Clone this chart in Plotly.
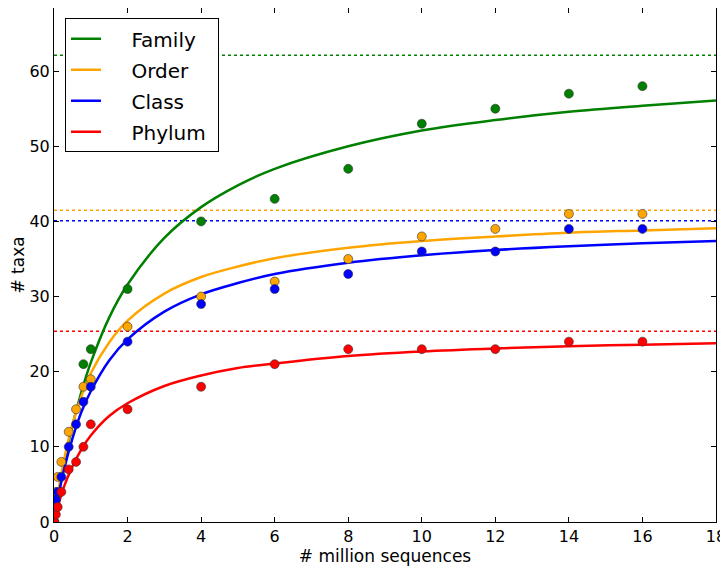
import plotly.graph_objects as go

# ---- data ----
names = ["Family", "Order", "Class", "Phylum"]
colors = ["#008000", "#FFA500", "#0000FF", "#FF0000"]

family_x = [0.8, 1, 2, 4, 6, 8, 10, 12, 14, 16]
family_y = [21, 23, 31, 40, 43, 47, 53, 55, 57, 58]

order_x = [0.05, 0.1, 0.2, 0.4, 0.6, 0.8, 1, 2, 4, 6, 8, 10, 12, 14, 16]
order_y = [4, 6, 8, 12, 15, 18, 19, 26, 30, 32, 35, 38, 39, 41, 41]

class_x = [0.01, 0.05, 0.1, 0.2, 0.4, 0.6, 0.8, 1, 2, 4, 6, 8, 10, 12, 14, 16]
class_y = [0, 3, 4, 6, 10, 13, 16, 18, 24, 29, 31, 33, 36, 36, 39, 39]

phylum_x = [0.01, 0.05, 0.1, 0.2, 0.4, 0.6, 0.8, 1, 2, 4, 6, 8, 10, 12, 14, 16]
phylum_y = [0, 1, 2, 4, 7, 8, 10, 13, 15, 18, 21, 23, 23, 23, 24, 24]

# fitted curves
curve_x = [0, 0.05, 0.1, 0.25, 0.5, 0.75, 1, 1.5, 2, 3, 4, 5, 6, 8, 10, 12, 14, 16, 18]
family_fit = [0, 1.6, 3.1, 7.1, 12.8, 17.4, 21.2, 27.2, 31.6, 37.8, 41.9, 44.8, 47.0, 50.0, 52.1, 53.5, 54.6, 55.4, 56.1]
order_fit = [0, 1.8, 3.5, 7.7, 13.0, 16.8, 19.8, 23.9, 26.8, 30.4, 32.6, 34.0, 35.1, 36.5, 37.4, 38.0, 38.5, 38.8, 39.1]
class_fit = [0, 1.5, 2.9, 6.5, 11.1, 14.7, 17.4, 21.5, 24.3, 28.0, 30.3, 31.8, 33.0, 34.5, 35.5, 36.2, 36.7, 37.1, 37.4]
phylum_fit = [0, 1.0, 1.9, 4.4, 7.4, 9.7, 11.5, 14.1, 15.8, 18.1, 19.5, 20.5, 21.1, 22.1, 22.7, 23.1, 23.4, 23.6, 23.8]

# estimated totals (dotted lines)
asymptotes = [62.1, 41.5, 40.1, 25.4]

x_ticks = [0, 2, 4, 6, 8, 10, 12, 14, 16, 18]
y_ticks = [0, 10, 20, 30, 40, 50, 60]

points = [(family_x, family_y), (order_x, order_y), (class_x, class_y), (phylum_x, phylum_y)]
fits = [family_fit, order_fit, class_fit, phylum_fit]

FONT = "DejaVu Sans"
NB = "\u00a0"
fig = go.Figure()

for i, name in enumerate(names):
    fig.add_trace(go.Scatter(
        x=curve_x, y=fits[i], mode="lines", name=NB * 4 + name + NB,
        line=dict(color=colors[i], width=2.5, shape="spline", smoothing=1.0),
        legendgroup=name, showlegend=True, hoverinfo="skip",
    ))

for i, name in enumerate(names):
    px, py = points[i]
    fig.add_trace(go.Scatter(
        x=px, y=py, mode="markers", name=name, showlegend=False,
        legendgroup=name,
        marker=dict(color=colors[i], size=9, line=dict(color="#333333", width=0.6)),
    ))

for i, a in enumerate(asymptotes):
    fig.add_shape(type="line", xref="paper", yref="y", x0=0, x1=1, y0=a, y1=a,
                  line=dict(color=colors[i], width=1.5, dash="dot"), layer="below")

axis_common = dict(
    showline=True, linecolor="black", linewidth=1, mirror="ticks",
    ticks="inside", ticklen=5, tickcolor="black", showgrid=False, zeroline=False,
    automargin=False,
    tickfont=dict(family=FONT, size=16, color="black"),
)

# page body has an 8px margin, so the figure is sized to fill the rest of the window
fig.update_layout(
    width=720, height=558,
    margin=dict(l=46, r=12, t=0, b=44, autoexpand=False),
    paper_bgcolor="white", plot_bgcolor="white",
    font=dict(family=FONT, color="black"),
    showlegend=True,
    legend=dict(
        x=0.0166, y=0.98, xanchor="left", yanchor="top",
        bgcolor="white", bordercolor="black", borderwidth=1,
        font=dict(family=FONT, size=20, color="black"),
        tracegroupgap=2, itemwidth=30,
    ),
    xaxis=dict(range=[0, 18], tickvals=x_ticks, ticktext=[str(v) for v in x_ticks],
               title=dict(text="# million sequences", font=dict(family=FONT, size=17), standoff=0),
               **axis_common),
    yaxis=dict(range=[0, 68.4], tickvals=y_ticks, ticktext=[str(v) for v in y_ticks],
               title=dict(text="# taxa", font=dict(family=FONT, size=17), standoff=4),
               **axis_common),
)

fig.write_html("out.html")
